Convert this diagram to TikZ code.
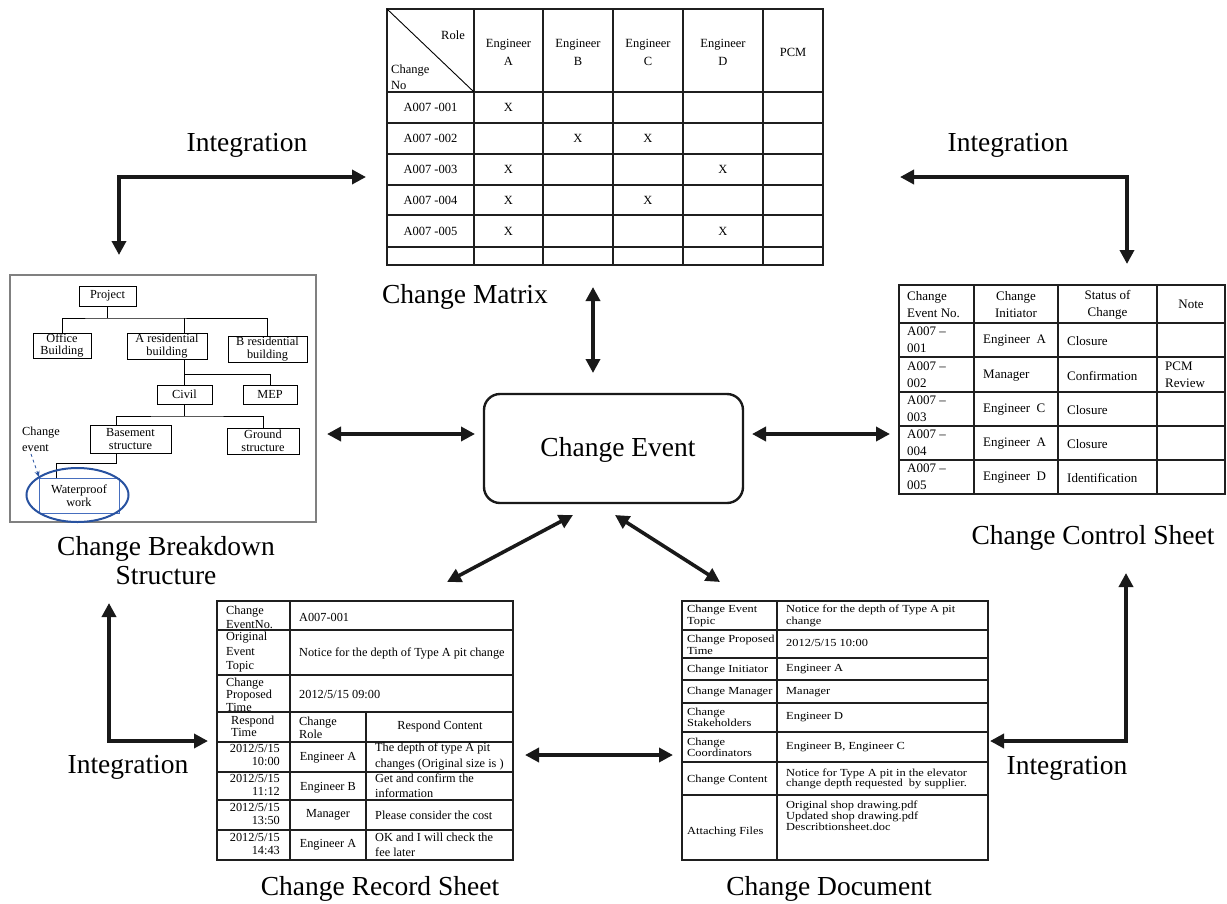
\documentclass[tikz,border=0pt]{standalone}
\usepackage{fontspec}
\setmainfont{Liberation Serif}
\newfontfamily\docfont[FakeStretch=1.15]{Liberation Serif}
\usetikzlibrary{arrows.meta,calc,shapes.geometric}
\definecolor{wbsgray}{RGB}{128,128,128}
\definecolor{evblue}{RGB}{40,82,160}
\definecolor{boxblue}{RGB}{70,110,190}
\begin{document}
\begin{tikzpicture}[x=1pt,y=-1pt,
  >={Triangle[length=14pt,width=14pt]},
  conn/.style={line width=3.6pt, draw=black!90, line join=miter},
  biglbl/.style={font=\fontsize{27.5}{29}\selectfont, inner sep=0pt, align=center},
  gridline/.style={line width=1.4pt, draw=black!88},
  mtx/.style={font=\fontsize{12.5}{18}\selectfont, inner sep=0pt, align=center},
  cst/.style={font=\fontsize{13}{17}\selectfont, inner sep=0pt, align=left},
  rec/.style={font=\fontsize{12.3}{14}\selectfont, inner sep=0pt, align=left},
  doc/.style={font=\docfont\fontsize{10.8}{11.5}\selectfont, inner sep=0pt, align=left},
  wbsbox/.style={draw=black, line width=0.9pt, inner sep=0pt, align=center, font=\fontsize{12.3}{12.5}\selectfont},
]
\useasboundingbox (0,0) rectangle (1227,903);

% ================= Change Matrix =================
\draw[gridline] (387,9) rectangle (823,265);
\foreach \x in {474,543,613,683,763} \draw[gridline] (\x,9) -- (\x,265);
\foreach \y in {92,123,154,185,215,247} \draw[gridline] (387,\y) -- (823,\y);
\draw[line width=0.9pt] (387,9) -- (474,92);
\node[mtx, anchor=east] (mrole) at (465,35) {Role};
\node[mtx, anchor=west, align=left, font=\fontsize{12.5}{16}\selectfont] (mchg) at (391,77) {Change\\No};
\node[mtx] (mhA) at (508.5,52) {Engineer\\A};
\node[mtx] (mhB) at (578,52) {Engineer\\B};
\node[mtx] (mhC) at (648,52) {Engineer\\C};
\node[mtx] (mhD) at (723,52) {Engineer\\D};
\node[mtx] (mhP) at (793,52) {PCM};
\node[mtx] (mr1) at (430.5,107.5) {A007 -001};
\node[mtx] (mr2) at (430.5,138.5) {A007 -002};
\node[mtx] (mr3) at (430.5,169.5) {A007 -003};
\node[mtx] (mr4) at (430.5,200) {A007 -004};
\node[mtx] (mr5) at (430.5,231) {A007 -005};
\node[mtx] (x1a) at (508.5,107.5) {X};
\node[mtx] (x2b) at (578,138.5) {X};
\node[mtx] (x2c) at (648,138.5) {X};
\node[mtx] (x3a) at (508.5,169.5) {X};
\node[mtx] (x3d) at (723,169.5) {X};
\node[mtx] (x4a) at (508.5,200) {X};
\node[mtx] (x4c) at (648,200) {X};
\node[mtx] (x5a) at (508.5,231) {X};
\node[mtx] (x5d) at (723,231) {X};
\node[biglbl] (lmatrix) at (465,297) {Change Matrix};

% ================= Change Breakdown Structure =================
\draw[draw=wbsgray, line width=2pt] (10,275) rectangle (316,522);
\node[wbsbox, minimum width=57pt, minimum height=20pt] (proj) at (107.5,296) {Project};
\node[wbsbox, minimum width=58pt, minimum height=25pt] (office) at (62,345.5) {Office\\Building};
\node[wbsbox, minimum width=80pt, minimum height=26pt] (ares) at (167,346) {A residential\\building};
\node[wbsbox, minimum width=79pt, minimum height=26pt] (bres) at (267.5,349) {B residential\\building};
\node[wbsbox, minimum width=55pt, minimum height=19pt] (civil) at (184.5,394.5) {Civil};
\node[wbsbox, minimum width=54pt, minimum height=19pt] (mep) at (270,394.5) {MEP};
\node[wbsbox, minimum width=81pt, minimum height=28pt] (base) at (130.5,439) {Basement\\structure};
\node[wbsbox, minimum width=72pt, minimum height=26pt] (ground) at (263,441) {Ground\\structure};
\node[wbsbox, draw=boxblue, minimum width=80pt, minimum height=35pt] (water) at (79,495.5) {Waterproof\\work};
\coordinate (bus1) at (107.5,318);
\coordinate (bus2) at (184.5,374);
\coordinate (bus3) at (184.5,416);
\coordinate (bus4) at (116,463);
\draw[line width=0.9pt] (proj.south) -- (bus1);
\draw[line width=0.9pt] (office.north) |- (bus1) -| (bres.north);
\draw[line width=0.9pt] (bus1 -| civil.north) -- (ares.north -| civil.north);
\draw[line width=0.9pt] (ares.south -| civil.north) -- (civil.north);
\draw[line width=0.9pt] (bus2) -| (mep.north);
\draw[line width=0.9pt] (civil.south) -- (bus3);
\draw[line width=0.9pt] (base.north -| bus4) |- (bus3) -| (ground.north);
\draw[line width=0.9pt] (base.south -| bus4) -- (bus4) -| (water.north -| 56,0);
\node[draw=evblue, line width=2pt, ellipse, minimum width=102pt, minimum height=54pt, inner sep=0pt] (ring) at (77.5,495) {};
\node[font=\fontsize{12.3}{16}\selectfont, inner sep=0pt, align=left, anchor=west] (cev) at (22,439) {Change\\event};
\coordinate (cevtip) at (39,477);
\draw[evblue, line width=0.8pt, dashed, -{Stealth[length=6pt,width=5pt]}] (31,454) -- (cevtip);
\node[biglbl] (lwbs) at (166,560.5) {Change Breakdown\\Structure};

% ================= Change Control Sheet =================
\draw[gridline] (899,285) rectangle (1225,494);
\foreach \x in {974,1058,1157} \draw[gridline] (\x,285) -- (\x,494);
\foreach \y in {323,357,392,426,460} \draw[gridline] (899,\y) -- (1225,\y);
\node[cst, anchor=west] (ch1) at (907,305) {Change\\Event No.};
\node[cst, align=center] (ch2) at (1016,305) {Change\\Initiator};
\node[cst, align=center] (ch3) at (1107.5,305) {Status of\\Change};
\node[cst, align=center] (ch4) at (1191,304) {Note};
\node[cst, anchor=west] (c11) at (907,340) {A007 –\\001};
\node[cst, anchor=west] (c21) at (907,374.5) {A007 –\\002};
\node[cst, anchor=west] (c31) at (907,409) {A007 –\\003};
\node[cst, anchor=west] (c41) at (907,443) {A007 –\\004};
\node[cst, anchor=west] (c51) at (907,477) {A007 –\\005};
\node[cst, anchor=west] (c12) at (983,341) {Engineer~~A};
\node[cst, anchor=west] (c22) at (983,375.5) {Manager};
\node[cst, anchor=west] (c32) at (983,410) {Engineer~~C};
\node[cst, anchor=west] (c42) at (983,444) {Engineer~~A};
\node[cst, anchor=west] (c52) at (983,478) {Engineer~~D};
\node[cst, anchor=west] (c13) at (1067,341) {Closure};
\node[cst, anchor=west] (c23) at (1067,375.5) {Confirmation};
\node[cst, anchor=west] (c33) at (1067,410) {Closure};
\node[cst, anchor=west] (c43) at (1067,444) {Closure};
\node[cst, anchor=west] (c53) at (1067,478) {Identification};
\node[cst, anchor=west] (c24) at (1165,374.5) {PCM\\Review};
\node[biglbl] (lcontrol) at (1093,538) {Change Control Sheet};

% ================= Change Record Sheet =================
\draw[gridline] (217,601) rectangle (513,860);
\foreach \y in {630,675,712,742,772,800,830} \draw[gridline] (217,\y) -- (513,\y);
\draw[gridline] (290,601) -- (290,860);
\draw[gridline] (366,712) -- (366,860);
\node[rec, anchor=west] (r11) at (226,617) {Change\\EventNo.};
\node[rec, anchor=west] (r12) at (299,617) {A007-001};
\node[rec, anchor=west, font=\fontsize{12.3}{14.5}\selectfont] (r21) at (226,652.5) {Original\\Event\\Topic};
\node[rec, anchor=west] (r22) at (299,653) {Notice for the depth of Type A pit change};
\node[rec, anchor=west, font=\fontsize{12.3}{12.5}\selectfont] (r31) at (226,694.5) {Change\\Proposed\\Time};
\node[rec, anchor=west] (r32) at (299,694) {2012/5/15 09:00};
\node[rec, anchor=west, font=\fontsize{12.3}{11.5}\selectfont] (r41) at (231,726.5) {Respond\\Time};
\node[rec, anchor=west, font=\fontsize{12.3}{13}\selectfont] (r42) at (299,727.5) {Change\\Role};
\node[rec] (r43) at (440,727) {Respond Content};
\node[rec, anchor=east, align=right, font=\fontsize{12.3}{13}\selectfont] (r51) at (280,754.5) {2012/5/15\\10:00};
\node[rec, anchor=east, align=right, font=\fontsize{12.3}{13}\selectfont] (r61) at (280,784.5) {2012/5/15\\11:12};
\node[rec, anchor=east, align=right, font=\fontsize{12.3}{13}\selectfont] (r71) at (280,814) {2012/5/15\\13:50};
\node[rec, anchor=east, align=right, font=\fontsize{12.3}{13}\selectfont] (r81) at (280,844) {2012/5/15\\14:43};
\node[rec] (r52) at (328,758) {Engineer A};
\node[rec] (r62) at (328,788) {Engineer B};
\node[rec] (r72) at (328,815) {Manager};
\node[rec] (r82) at (328,845) {Engineer A};
\node[rec, anchor=west, font=\fontsize{12.3}{15.5}\selectfont] (r53) at (375,756.5) {The depth of type A pit\\changes (Original size is )};
\node[rec, anchor=west, font=\fontsize{12.3}{15}\selectfont] (r63) at (375,785.5) {Get and confirm the\\information};
\node[rec, anchor=west] (r73) at (375,815) {Please consider the cost};
\node[rec, anchor=west, font=\fontsize{12.3}{15}\selectfont] (r83) at (375,844.5) {OK and I will check the\\fee later};
\node[biglbl] (lrecord) at (380,889) {Change Record Sheet};

% ================= Change Document =================
\draw[gridline] (682,601) rectangle (988,860);
\draw[gridline] (777,601) -- (777,860);
\foreach \y in {630,658,680,703,732,762,795} \draw[gridline] (682,\y) -- (988,\y);
\node[doc, anchor=west] (d11) at (687,616) {Change Event\\Topic};
\node[doc, anchor=west] (d12) at (786,616) {Notice for the depth of Type A pit\\change};
\node[doc, anchor=west] (d21) at (687,645) {Change Proposed\\Time};
\node[doc, anchor=west] (d22) at (786,643) {2012/5/15 10:00};
\node[doc, anchor=west] (d31) at (687,669.5) {Change Initiator};
\node[doc, anchor=west] (d32) at (786,669.5) {Engineer A};
\node[doc, anchor=west] (d41) at (687,692) {Change Manager};
\node[doc, anchor=west] (d42) at (786,692) {Manager};
\node[doc, anchor=west] (d51) at (687,717.5) {Change\\Stakeholders};
\node[doc, anchor=west] (d52) at (786,717) {Engineer D};
\node[doc, anchor=west] (d61) at (687,747.5) {Change\\Coordinators};
\node[doc, anchor=west] (d62) at (786,747) {Engineer B, Engineer C};
\node[doc, anchor=west] (d71) at (687,780) {Change Content};
\node[doc, anchor=west, font=\docfont\fontsize{10.8}{10.5}\selectfont] (d72) at (786,779) {Notice for Type A pit in the elevator\\change depth requested\ \ by supplier.};
\node[doc, anchor=west] (d81) at (687,832) {Attaching Files};
\node[doc, anchor=west, font=\docfont\fontsize{10.8}{9}\selectfont] (d82) at (786,816) {Original shop drawing.pdf\\Updated shop drawing.pdf\\Describtionsheet.doc};
\node[biglbl] (ldoc) at (829,889) {Change Document};

% ================= Change Event =================
\node[draw=black!90, line width=2.4pt, rounded corners=16pt, minimum width=259pt, minimum height=109pt, inner sep=0pt] (ev) at (613.5,448.5) {};
\node[font=\fontsize{27.5}{30}\selectfont, inner sep=0pt] (evtxt) at (618,450) {Change Event};

% ================= Arrows =================
\coordinate (aMt) at (593,287);  \coordinate (aMb) at (593,373);
\coordinate (aWl) at (327,434);  \coordinate (aWr) at (475,434);
\coordinate (aCl) at (752,434);  \coordinate (aCr) at (890,434);
\coordinate (aRa) at (573,515);  \coordinate (aRb) at (447,582);
\coordinate (aDa) at (615,515);  \coordinate (aDb) at (720,582);
\coordinate (aRDl) at (525,755); \coordinate (aRDr) at (673,755);
\draw[conn, <->] (aMt) -- (aMb);
\draw[conn, <->] (aWl) -- (aWr);
\draw[conn, <->] (aCl) -- (aCr);
\draw[conn, <->] (aRa) -- (aRb);
\draw[conn, <->] (aDa) -- (aDb);
\draw[conn, <->] (aRDl) -- (aRDr);

\coordinate (tlA) at (119,255); \coordinate (tlC) at (119,177); \coordinate (tlB) at (366,177);
\coordinate (trA) at (900,177); \coordinate (trC) at (1127,177); \coordinate (trB) at (1127,264);
\coordinate (blA) at (109,603); \coordinate (blC) at (109,741); \coordinate (blB) at (208,741);
\coordinate (brA) at (1126,573); \coordinate (brC) at (1126,741); \coordinate (brB) at (990,741);
\draw[conn, <->] (tlA) -- (tlC) -- (tlB);
\draw[conn, <->] (trA) -- (trC) -- (trB);
\draw[conn, <->] (blA) -- (blC) -- (blB);
\draw[conn, <->] (brA) -- (brC) -- (brB);

\node[biglbl] (itl) at (247,145) {Integration};
\node[biglbl] (itr) at (1008,145) {Integration};
\node[biglbl] (ibl) at (128,767) {Integration};
\node[biglbl] (ibr) at (1067,768) {Integration};
\end{tikzpicture}
\end{document}
